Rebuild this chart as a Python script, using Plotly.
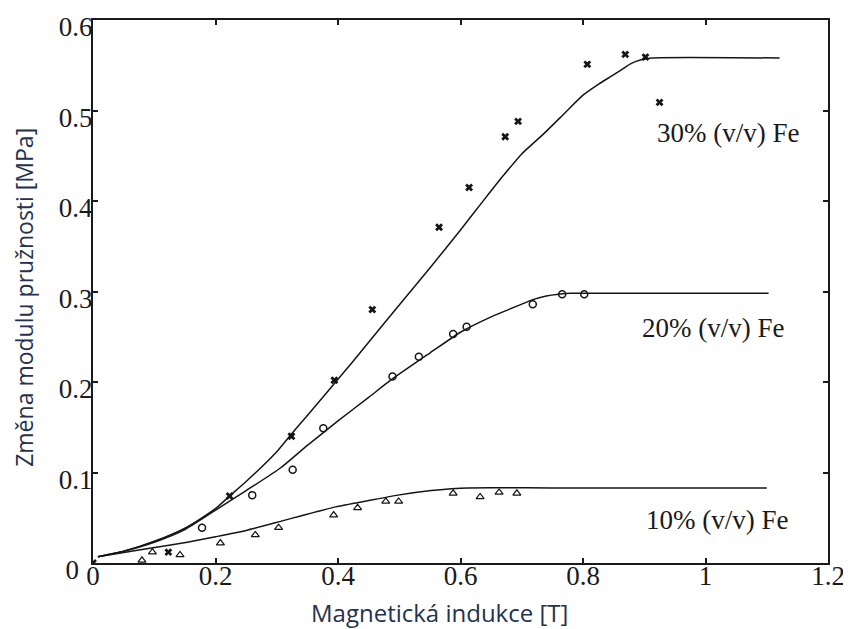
import plotly.graph_objects as go

# Measured points
x30 = [0.0, 0.123, 0.223, 0.324, 0.394, 0.456, 0.565, 0.614, 0.673, 0.694, 0.807, 0.869, 0.902, 0.925]
y30 = [0.0, 0.012, 0.074, 0.140, 0.202, 0.280, 0.371, 0.415, 0.471, 0.488, 0.551, 0.562, 0.559, 0.509]

x20 = [0.178, 0.260, 0.326, 0.376, 0.489, 0.532, 0.588, 0.610, 0.718, 0.766, 0.802]
y20 = [0.039, 0.075, 0.103, 0.149, 0.206, 0.228, 0.253, 0.261, 0.286, 0.297, 0.297]

x10 = [0.080, 0.097, 0.142, 0.208, 0.265, 0.303, 0.393, 0.432, 0.478, 0.499, 0.588, 0.632, 0.663, 0.692]
y10 = [0.003, 0.012, 0.009, 0.022, 0.031, 0.039, 0.053, 0.061, 0.068, 0.068, 0.077, 0.073, 0.078, 0.077]

# Fitted curves
cx30 = [0.008, 0.05, 0.10, 0.154, 0.20, 0.223, 0.25, 0.30, 0.322, 0.35, 0.40, 0.421, 0.45, 0.50, 0.55, 0.60, 0.638, 0.671, 0.70, 0.737, 0.77, 0.80, 0.825, 0.849, 0.865, 0.879, 0.895, 0.912, 1.121]
cy30 = [0.007, 0.013, 0.024, 0.040, 0.060, 0.074, 0.090, 0.123, 0.141, 0.163, 0.203, 0.220, 0.244, 0.285, 0.326, 0.368, 0.401, 0.429, 0.452, 0.475, 0.497, 0.517, 0.529, 0.539, 0.546, 0.552, 0.556, 0.558, 0.558]

cx20 = [0.008, 0.05, 0.10, 0.15, 0.197, 0.25, 0.306, 0.35, 0.40, 0.45, 0.486, 0.55, 0.60, 0.65, 0.70, 0.718, 0.74, 0.76, 0.78, 0.80, 1.103]
cy20 = [0.007, 0.013, 0.023, 0.037, 0.057, 0.080, 0.105, 0.130, 0.157, 0.183, 0.202, 0.232, 0.255, 0.272, 0.286, 0.291, 0.295, 0.297, 0.298, 0.298, 0.298]

cx10 = [0.008, 0.08, 0.154, 0.20, 0.25, 0.306, 0.339, 0.396, 0.45, 0.498, 0.552, 0.585, 0.612, 0.748, 1.10]
cy10 = [0.007, 0.015, 0.023, 0.029, 0.036, 0.046, 0.052, 0.062, 0.069, 0.075, 0.080, 0.082, 0.083, 0.083, 0.083]

labels = ["30% (v/v) Fe", "20% (v/v) Fe", "10% (v/v) Fe"]
label_x = [1.037, 1.013, 1.018]
label_y = [0.475, 0.260, 0.0475]

xticks = [0, 0.2, 0.4, 0.6, 0.8, 1, 1.2]
xtick_text = ["0", "0.2", "0.4", "0.6", "0.8", "1", "1.2"]
yticks = [0, 0.1, 0.2, 0.3, 0.4, 0.5, 0.6]
ytick_text = ["0\u2002", "0.1", "0.2", "0.3", "0.4", "0.5", "0.6"]

line_col = "#151515"
serif = "Liberation Serif, Times New Roman, serif"

fig = go.Figure()
for cx, cy in [(cx30, cy30), (cx20, cy20), (cx10, cy10)]:
    fig.add_trace(go.Scatter(x=cx, y=cy, mode="lines", line=dict(color=line_col, width=1.5),
                             line_shape="spline", line_smoothing=0.6, showlegend=False, hoverinfo="skip"))

fig.add_trace(go.Scatter(x=x30, y=y30, mode="markers",
                         marker=dict(symbol="x", size=7, color=line_col), showlegend=False))
fig.add_trace(go.Scatter(x=x20, y=y20, mode="markers",
                         marker=dict(symbol="circle-open", size=7, color=line_col, line=dict(width=1.5)), showlegend=False))
fig.add_trace(go.Scatter(x=x10, y=y10, mode="markers",
                         marker=dict(symbol="triangle-up-open", size=7, color=line_col, line=dict(width=1.2)), showlegend=False))

for t, lx, ly in zip(labels, label_x, label_y):
    fig.add_annotation(x=lx, y=ly, text=t, showarrow=False,
                       font=dict(family=serif, size=27, color="#1a1a1a"),
                       xanchor="center", yanchor="middle")

title_col = "#25314d"
fig.add_annotation(xref="paper", yref="paper", x=0.472, y=-0.092, text="Magnetická indukce [T]",
                   showarrow=False, font=dict(family="Open Sans", size=24, color=title_col),
                   xanchor="center", yanchor="middle")
fig.add_annotation(xref="paper", yref="paper", x=-0.094, y=0.49, text="Změna modulu pružnosti [MPa]",
                   showarrow=False, textangle=-90, font=dict(family="Open Sans", size=23, color=title_col),
                   xanchor="center", yanchor="middle")

axis_common = dict(showgrid=False, zeroline=False, showline=True, linecolor="#1a1a1a", linewidth=2,
                   mirror="ticks", ticks="inside", ticklen=5, tickwidth=1.5, tickcolor="#1a1a1a",
                   automargin=False, ticklabeloverflow="allow",
                   tickfont=dict(family=serif, size=27, color="#1a1a1a"))

fig.update_xaxes(range=[0, 1.2], tickvals=xticks, ticktext=xtick_text, ticklabelstandoff=-12, **axis_common)
fig.update_yaxes(range=[0, 0.6], tickvals=yticks, ticktext=ytick_text, ticklabelstandoff=-7,
                 ticklabelshift=7, **axis_common)

# page body adds an 8px offset, so the figure is sized to fit the window
fig.update_layout(width=843, height=621, margin=dict(l=85, r=23, t=12, b=66),
                  plot_bgcolor="white", paper_bgcolor="white")

fig.write_html("out.html")
